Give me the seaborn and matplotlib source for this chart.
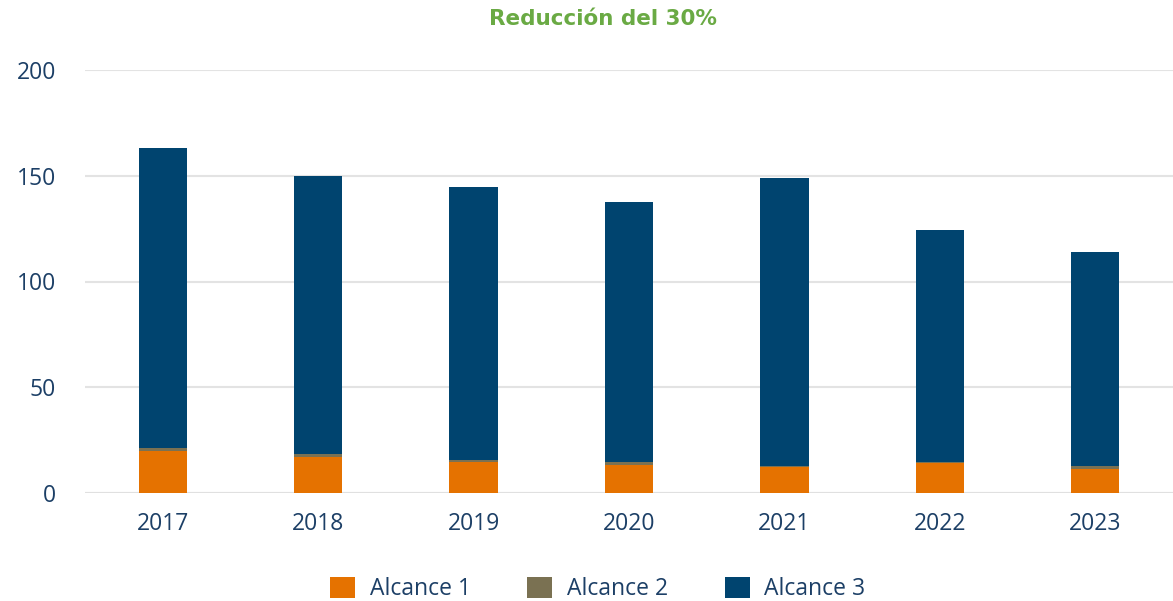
import matplotlib
matplotlib.use("Agg")
import matplotlib.pyplot as plt
import seaborn as sns
import pandas as pd
from matplotlib.patches import Patch

years = ["2017", "2018", "2019", "2020", "2021", "2022", "2023"]
alcance1 = [20.0, 17.2, 14.5, 13.4, 12.4, 14.3, 11.3]
alcance2 = [1.3, 1.1, 1.1, 1.3, 0.5, 0.4, 1.6]
alcance3 = [141.7, 131.4, 129.2, 122.9, 135.9, 109.6, 100.9]
series_names = ["Alcance 1", "Alcance 2", "Alcance 3"]
title_text = "Reducción del 30%"

colors = ["#E57200", "#7A7152", "#00446F"]
text_color = "#1C3F66"

sns.set_theme(style="white")
plt.rcParams["font.family"] = ["Open Sans", "DejaVu Sans"]

df = pd.DataFrame({"year": years, "a1": alcance1, "a2": alcance2, "a3": alcance3})
df["b2"] = df["a1"]
df["b3"] = df["a1"] + df["a2"]

fig = plt.figure(figsize=(11.73, 6.01), dpi=100)
ax = fig.add_axes([85 / 1173, 1 - 493 / 601, 1 - 85 / 1173, (493 - 70) / 601])

sns.barplot(data=df, x="year", y="a1", color=colors[0], width=0.31, ax=ax,
            saturation=1, linewidth=0, zorder=3)
sns.barplot(data=df, x="year", y="a2", bottom=df["b2"], color=colors[1], width=0.31,
            ax=ax, saturation=1, linewidth=0, zorder=3)
sns.barplot(data=df, x="year", y="a3", bottom=df["b3"], color=colors[2], width=0.31,
            ax=ax, saturation=1, linewidth=0, zorder=3)

ax.set_ylim(0, 200)
ax.set_xlim(-0.5, 6.5)
ax.set_yticks([0, 50, 100, 150, 200])
ax.set_xlabel("")
ax.set_ylabel("")
for s in ax.spines.values():
    s.set_visible(False)
ax.grid(axis="y", color="#E3E3E3", linewidth=1.5, zorder=0)
ax.set_axisbelow(True)
ax.axhline(0, color="#E0E0E0", linewidth=2.2, zorder=2)
ax.tick_params(axis="both", length=0, labelsize=16.5, colors=text_color)
ax.tick_params(axis="y", pad=21)
ax.tick_params(axis="x", pad=14)

fig.text(603 / 1173, 1 - 19 / 601, title_text, ha="center", va="center",
         fontsize=15.5, fontweight="bold", color="#6AAA44", family=["DejaVu Sans"])

handles = [Patch(facecolor=c, edgecolor="none") for c in colors]
leg = fig.legend(handles, series_names, loc="center", bbox_to_anchor=(598 / 1173, 1 - 589 / 601),
                 ncol=3, frameon=False, fontsize=16.5, handlelength=1.09, handleheight=1.09,
                 columnspacing=2.45, handletextpad=0.65)
for t in leg.get_texts():
    t.set_color(text_color)

fig.savefig("out.png", dpi=100)
